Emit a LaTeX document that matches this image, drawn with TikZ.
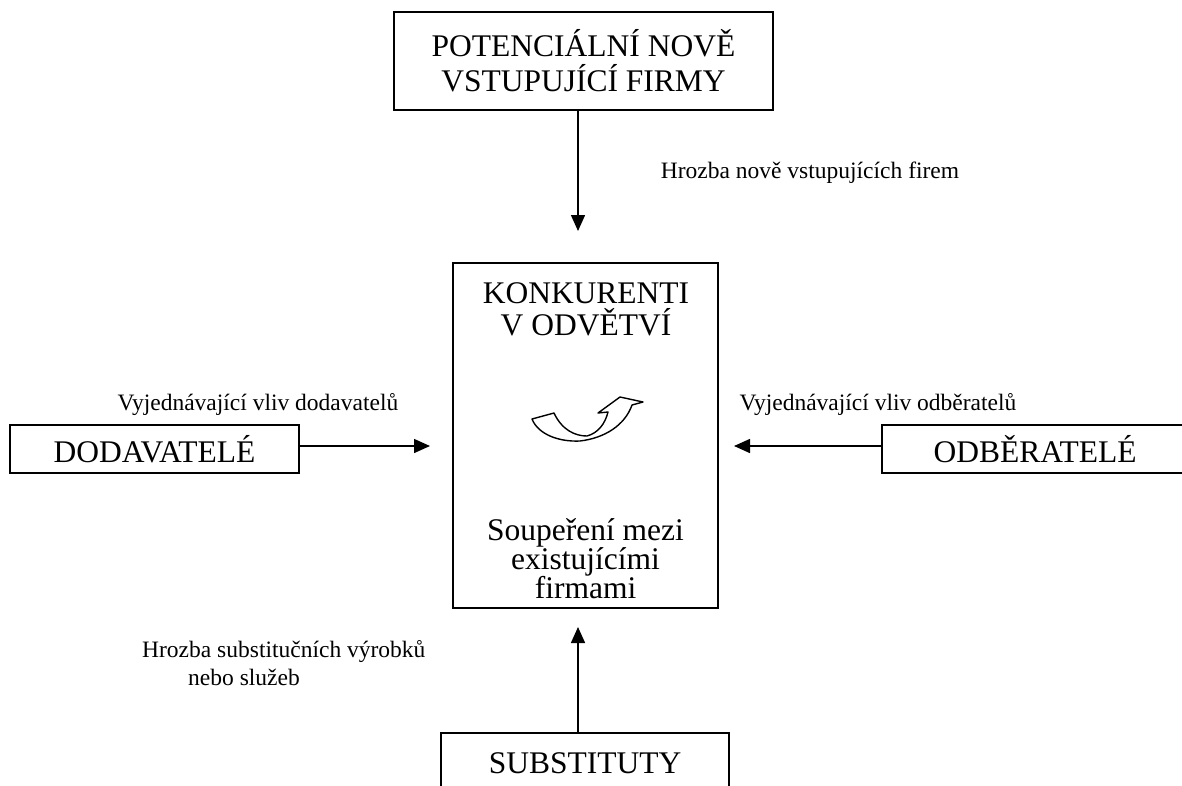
\documentclass[tikz,border=0pt]{standalone}
\usepackage{fontspec}
\setmainfont{Liberation Serif}
\usetikzlibrary{arrows.meta}
\tikzset{
  box/.style={draw, line width=1.5pt, inner sep=0pt, align=center, font=\fontsize{31.5}{35}\selectfont},
  btext/.style={inner sep=0pt, align=center, font=\fontsize{31.5}{35}\selectfont},
  lbl/.style={inner sep=0pt, font=\fontsize{23.5}{28}\selectfont},
  arr/.style={line width=1.5pt, -{Triangle[length=16pt,width=14pt]}},
  icon/.style={draw, line width=1.4pt, line join=round}
}
\begin{document}
\begin{tikzpicture}[x=1pt,y=-1pt]
\useasboundingbox (0,0) rectangle (1182,785);
% boxes
\node[box, minimum width=379pt, minimum height=98pt] (pot) at (583.5,61) {POTENCIÁLNÍ NOVĚ\\VSTUPUJÍCÍ FIRMY};
\node[box, minimum width=265pt, minimum height=345pt] (kon) at (585.5,435.5) {};
\node[box, minimum width=289pt, minimum height=48pt] (dod) at (154.5,449) {DODAVATELÉ};
\node[box, minimum width=306pt, minimum height=48pt] (odb) at (1035,449) {ODBĚRATELÉ};
\node[box, minimum width=288pt, minimum height=60pt] (sub) at (585,763) {SUBSTITUTY};
% central texts
\node[btext, anchor=base] (k1) at (586,303) {KONKURENTI};
\node[btext, anchor=base] (k2) at (586,335) {V ODVĚTVÍ};
\node[btext, anchor=base] (s1) at (585.5,540) {Soupeření mezi};
\node[btext, anchor=base] (s2) at (585.5,569) {existujícími};
\node[btext, anchor=base] (s3) at (585.5,598) {firmami};
% arrow end points
\coordinate (ax) at (578,0);
\coordinate (tTop) at (578,231);
\coordinate (tLeft) at (430,446);
\coordinate (tRight) at (734,446);
\coordinate (tBot) at (578,627);
\coordinate (yl) at (0,446);
% connectors
\draw[arr] (pot.south -| ax) -- (tTop);
\draw[arr] (dod.east |- yl) -- (tLeft);
\draw[arr] (odb.west |- yl) -- (tRight);
\draw[arr] (sub.north -| ax) -- (tBot);
% labels
\node[lbl, anchor=base] (l1) at (810,178) {Hrozba nově vstupujících firem};
\node[lbl, anchor=base] (l2) at (258,410) {Vyjednávající vliv dodavatelů};
\node[lbl, anchor=base] (l3) at (878,410) {Vyjednávající vliv odběratelů};
\node[lbl, anchor=base west] (l4) at (142,657) {Hrozba substitučních výrobků};
\node[lbl, anchor=base west] (l5) at (188,685) {nebo služeb};
% curved arrow icon
\draw[icon] (532,419) -- (554,413) .. controls (562,430) and (575,436) .. (587,436)
  .. controls (598,433) and (605,424) .. (608,412) -- (598,413) -- (620,397) -- (643,402) -- (632,405)
  .. controls (625,425) and (605,438) .. (580,441) .. controls (558,442) and (538,434) .. cycle;
\end{tikzpicture}
\end{document}
